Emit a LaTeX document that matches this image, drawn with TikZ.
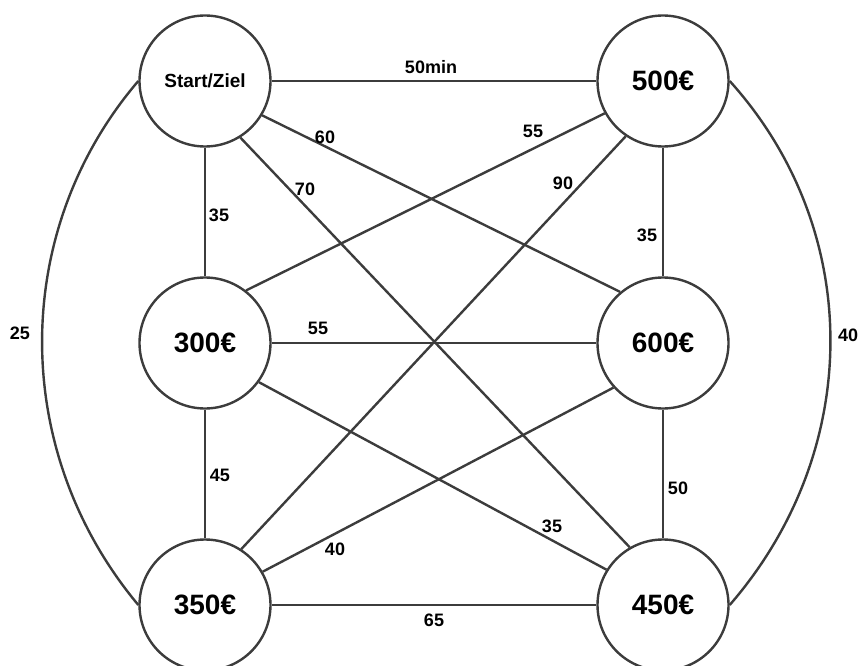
\documentclass[tikz,border=0pt]{standalone}
\usepackage{fontspec}
\setmainfont{Liberation Sans}
\begin{document}
\begin{tikzpicture}[x=1pt,y=-1pt,
  city/.style={circle,draw=linegray,line width=2.4pt,minimum size=131pt,inner sep=0pt,fill=white,
    font=\fontsize{28}{30}\selectfont\bfseries},
  startnode/.style={city,font=\fontsize{19}{22}\selectfont\bfseries},
  edge/.style={draw=linegray,line width=2.4pt},
  lbl/.style={font=\fontsize{18}{20}\selectfont\bfseries,inner sep=0pt}]
\definecolor{linegray}{RGB}{60,60,60}
\useasboundingbox (0,0) rectangle (859,666);
\node[startnode] (S) at (205,81) {Start/Ziel};
\node[city] (F5) at (663,81) {500€};
\node[city] (T3) at (205,343) {300€};
\node[city] (T6) at (663,343) {600€};
\node[city] (T35) at (205,605) {350€};
\node[city] (F45) at (663,605) {450€};
\begin{scope}[edge]
\draw (S.east) -- (F5.west);
\draw (S.south) -- (T3.north);
\draw (S.-31.7) -- (T6.130.7);
\draw (S.-58) -- (F45.120);
\draw (F5.-151.5) -- (T3.52.6);
\draw (F5.-124) -- (T35.57);
\draw (F5.south) -- (T6.north);
\draw (T3.east) -- (T6.west);
\draw (T3.south) -- (T35.north);
\draw (T3.-36.8) -- (F45.148.8);
\draw (T6.-138) -- (T35.30.5);
\draw (T6.south) -- (F45.north);
\draw (T35.east) -- (F45.west);
\draw (S.west) .. controls (11,230) and (9,450) .. (T35.west);
\draw (F5.east) .. controls (864,230) and (864,450) .. (F45.east);
\end{scope}
\node[lbl] (l1) at (431,67) {50min};
\node[lbl] (l2) at (325,137) {60};
\node[lbl] (l3) at (305,189) {70};
\node[lbl] (l4) at (219,215) {35};
\node[lbl] (l5) at (533,131) {55};
\node[lbl] (l6) at (563,183) {90};
\node[lbl] (l7) at (647,235) {35};
\node[lbl] (l8) at (20,333) {25};
\node[lbl] (l9) at (318,328) {55};
\node[lbl] (l10) at (848,335) {40};
\node[lbl] (l11) at (220,475) {45};
\node[lbl] (l12) at (335,549) {40};
\node[lbl] (l13) at (434,620) {65};
\node[lbl] (l14) at (678,488) {50};
\node[lbl] (l15) at (552,526) {35};
\end{tikzpicture}
\end{document}
